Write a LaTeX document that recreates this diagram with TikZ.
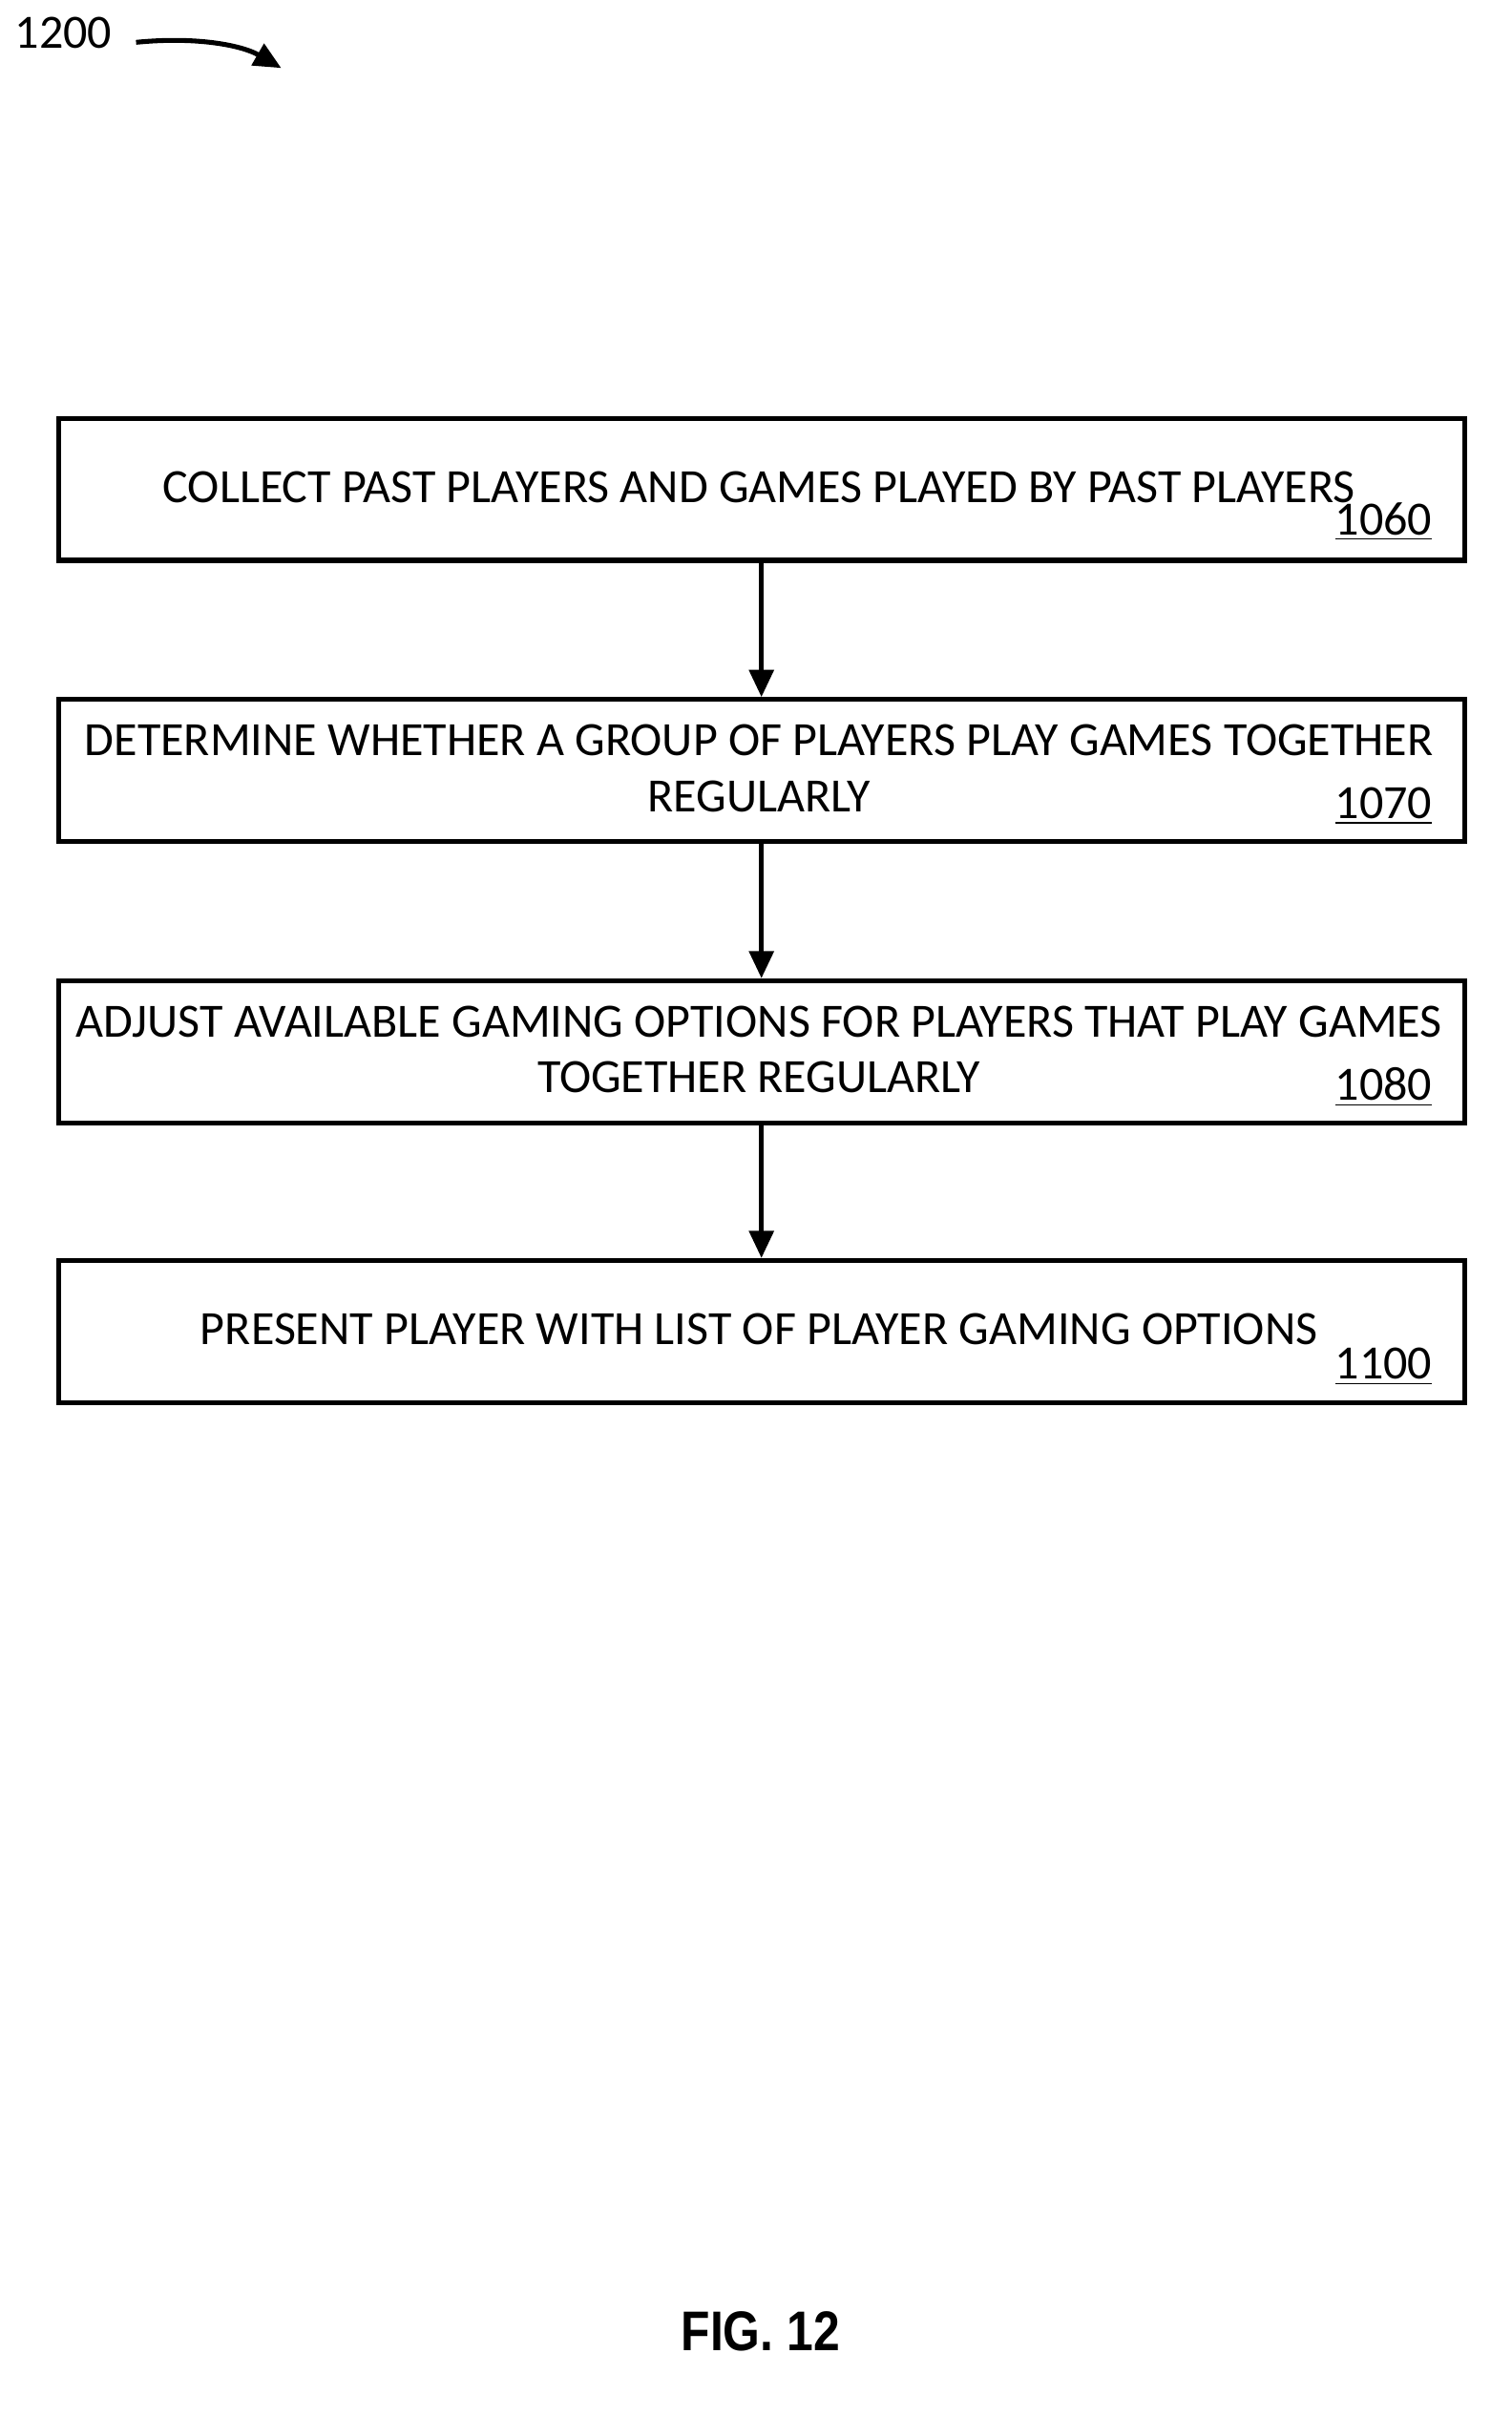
\documentclass[tikz,border=0pt]{standalone}
\usepackage{fontspec}
\setmainfont{Carlito}
\newfontfamily\figfont{Liberation Sans}
\usetikzlibrary{arrows.meta}
\begin{document}
\begin{tikzpicture}[x=0.5pt,y=-0.5pt,
  box/.style={draw,line width=1.6pt,minimum width=465pt,minimum height=47pt,anchor=north west,inner sep=0},
  txt/.style={font=\fontsize{15.8}{18.5}\selectfont,align=center},
  num/.style={font=\fontsize{15.8}{17}\selectfont}, 
  arr/.style={line width=1.6pt,-{Triangle[length=9pt,width=8pt]}}]
\useasboundingbox (0,0) rectangle (1000,1598.5);
\node[box] (b1) at (37,275) {};
\node[box] (b2) at (37,461) {};
\node[box] (b3) at (37,647) {};
\node[box] (b4) at (37,832) {};
\node[txt] (t1) at (502,322) {COLLECT PAST PLAYERS AND GAMES PLAYED BY PAST PLAYERS};
\node[txt] (t2) at (502,508) {DETERMINE WHETHER A GROUP OF PLAYERS PLAY GAMES TOGETHER\\REGULARLY};
\node[txt] (t3) at (502,694) {ADJUST AVAILABLE GAMING OPTIONS FOR PLAYERS THAT PLAY GAMES\\TOGETHER REGULARLY};
\node[txt] (t4) at (502,879) {PRESENT PLAYER WITH LIST OF PLAYER GAMING OPTIONS};
\node[num] (n1) at (915,345) {\underline{1060}};
\node[num] (n2) at (915,533) {\underline{1070}};
\node[num] (n3) at (915,719) {\underline{1080}};
\node[num] (n4) at (915,904) {\underline{1100}};
\draw[arr] (b1.south) -- (b2.north);
\draw[arr] (b2.south) -- (b3.north);
\draw[arr] (b3.south) -- (b4.north);
\node[num] (lbl) at (42,22) {1200};
\coordinate (a0) at (90,28);
\coordinate (a1) at (186,45);
\draw[arr] (a0) .. controls (130,24) and (160,30) .. (a1);
\node[font=\figfont\bfseries\fontsize{18.5}{22}\selectfont] (fig) at (503,1542) {\scalebox{0.85}[1]{FIG. 12}};
\end{tikzpicture}
\end{document}
